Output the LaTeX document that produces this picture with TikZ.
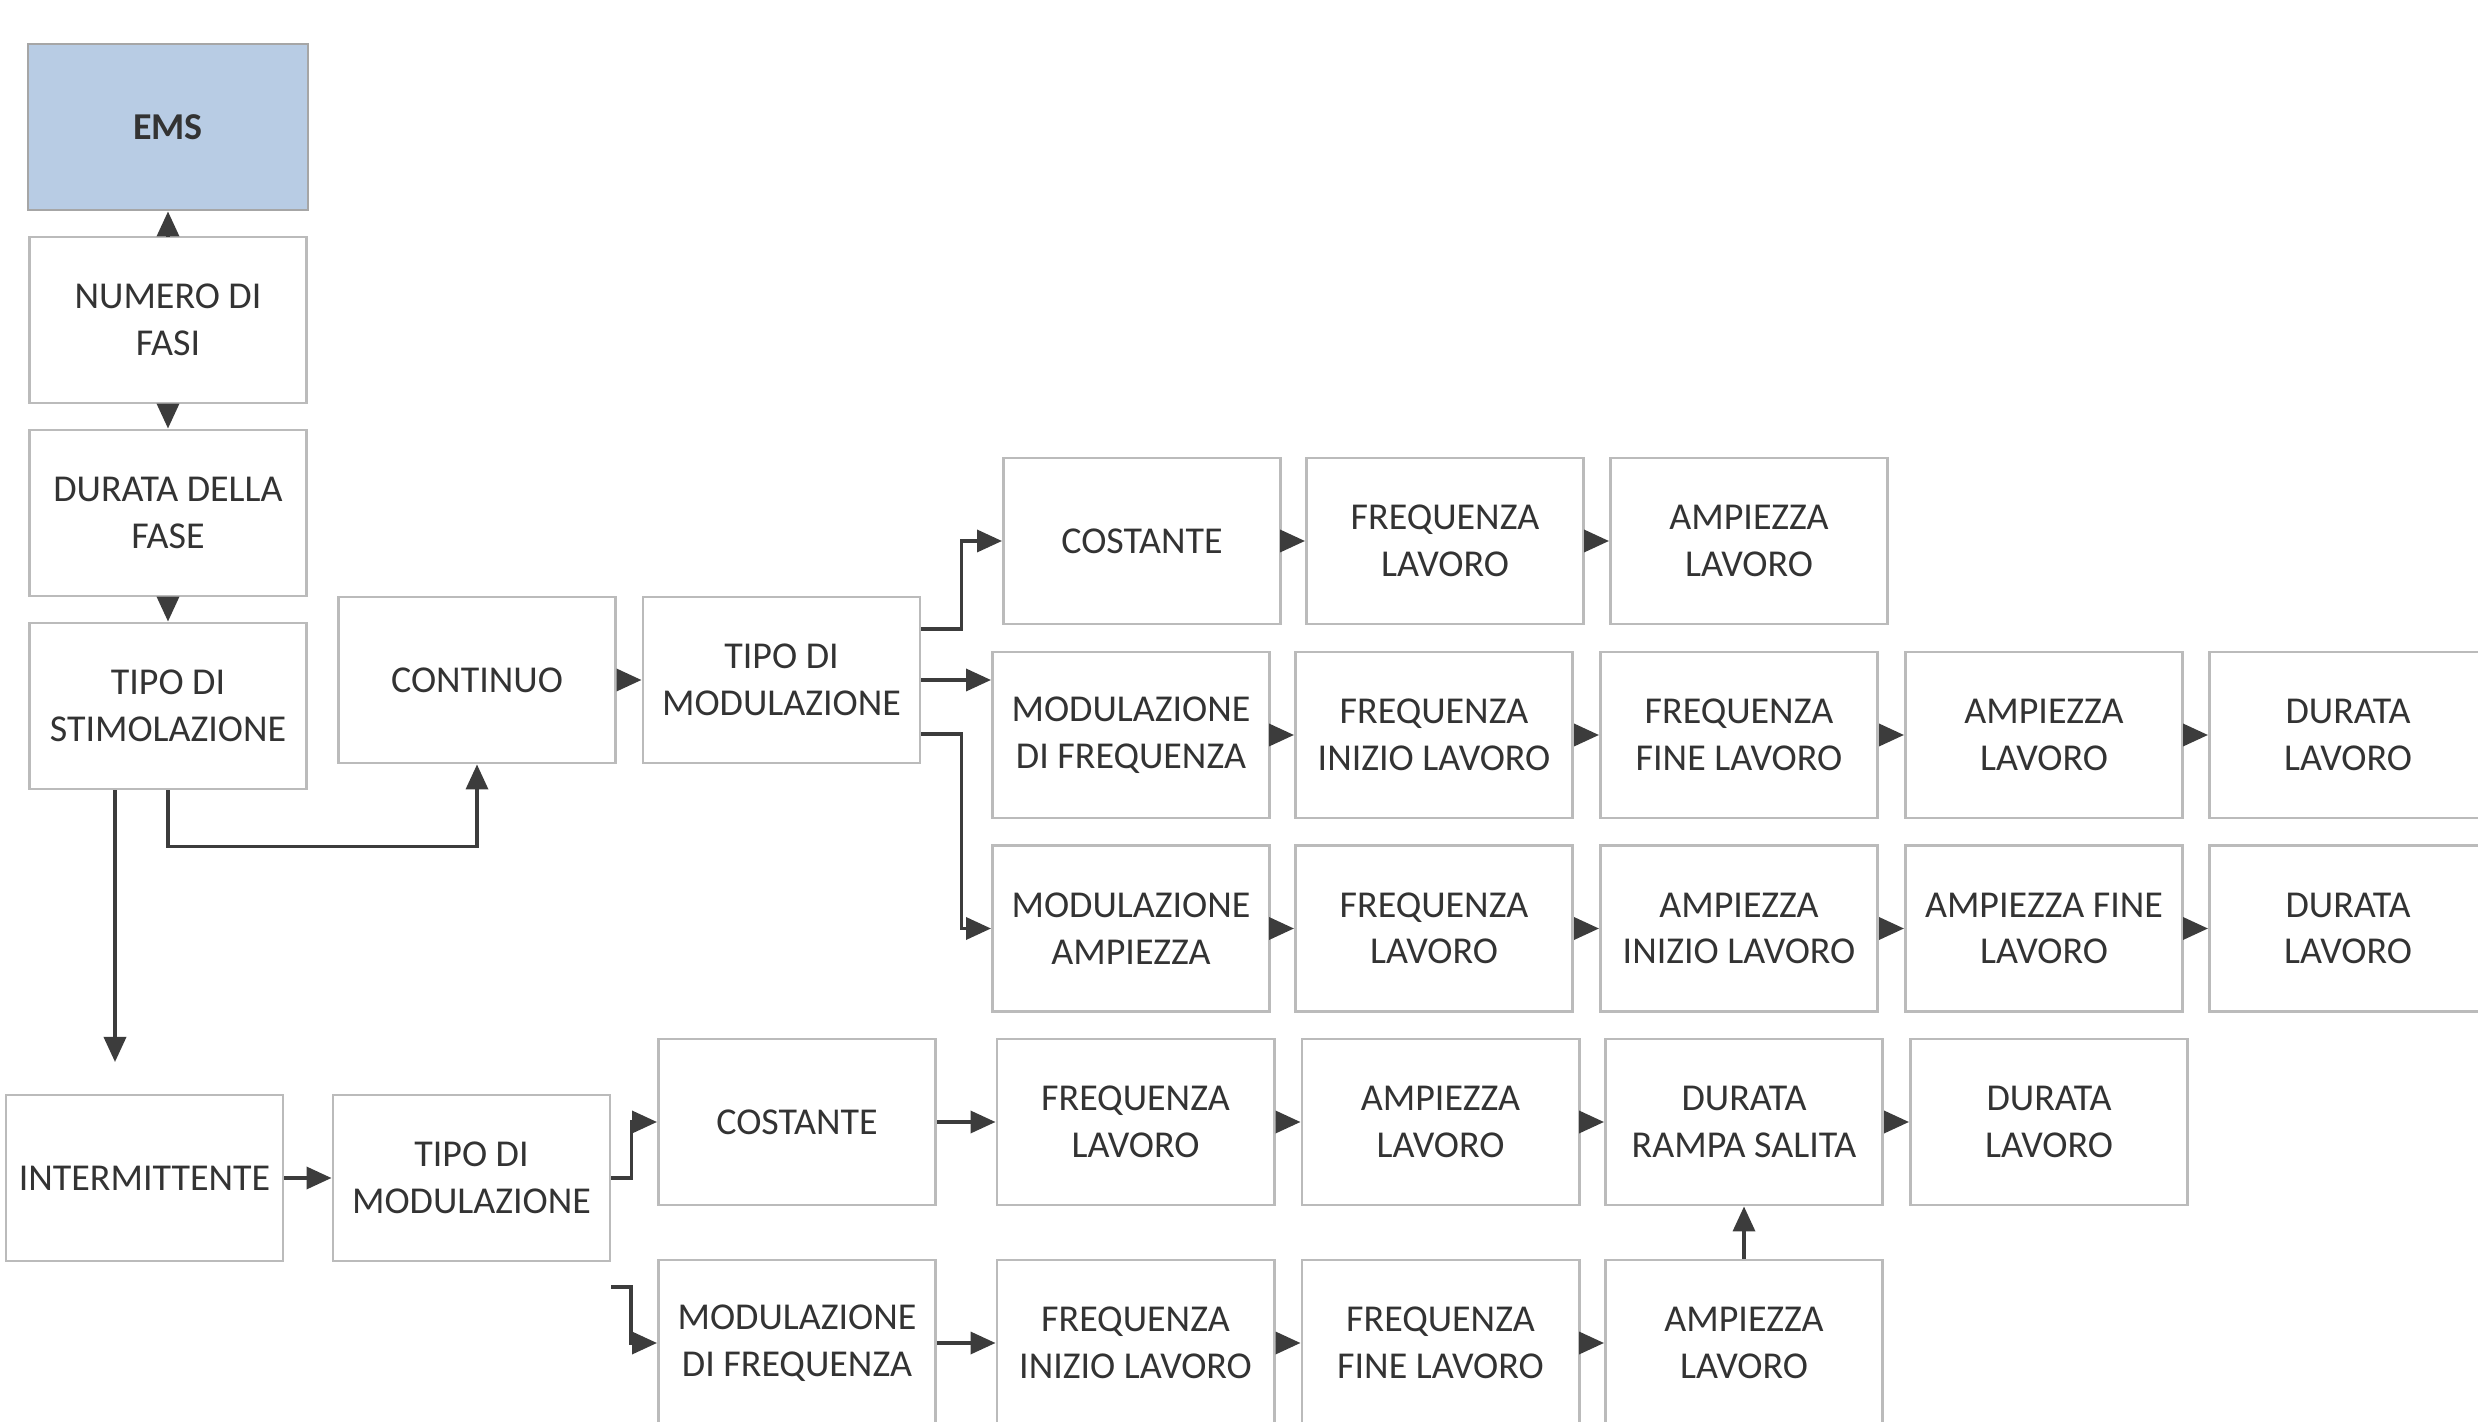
\documentclass[tikz,border=0pt]{standalone}
\usepackage{fontspec}
\setmainfont{Carlito}
\usetikzlibrary{arrows.meta,calc}
\definecolor{txtc}{HTML}{333333}
\definecolor{bordc}{HTML}{BBBBBB}
\definecolor{linec}{HTML}{3C3C3C}
\definecolor{emsfill}{HTML}{B8CCE4}
\begin{document}
\begin{tikzpicture}[x=0.01cm,y=-0.01cm,
  box/.style={draw=bordc, line width=0.8pt, fill=white, minimum width=2.77cm, minimum height=1.66cm,
    inner sep=0pt, align=center, text=txtc, font=\fontsize{10.8}{13.2}\selectfont},
  emsbox/.style={box, fill=emsfill, draw=gray!70, minimum width=2.8cm, font=\fontsize{10.8}{13.2}\selectfont\bfseries},
  arr/.style={draw=linec, line width=1pt, -{Triangle[length=0.25cm,width=0.22cm]}}
]
\useasboundingbox[fill=white] (0,0) rectangle (2478,1422);

% column 1
\node[emsbox] (ems) at (168,127) {EMS};
\node[box] (nf) at (168,320) {NUMERO DI\\FASI};
\node[box] (df) at (168,513) {DURATA DELLA\\FASE};
\node[box] (ts) at (168,706) {TIPO DI\\STIMOLAZIONE};

% continuous branch
\node[box] (cont) at (477,680) {CONTINUO};
\node[box] (tm1) at (781.5,680) {TIPO DI\\MODULAZIONE};

% row A
\node[box] (a1) at (1142,541) {COSTANTE};
\node[box] (a2) at (1445,541) {FREQUENZA\\LAVORO};
\node[box] (a3) at (1749,541) {AMPIEZZA\\LAVORO};

% row B
\node[box] (b1) at (1131,735) {MODULAZIONE\\DI FREQUENZA};
\node[box] (b2) at (1434,735) {FREQUENZA\\INIZIO LAVORO};
\node[box] (b3) at (1739,735) {FREQUENZA\\FINE LAVORO};
\node[box] (b4) at (2044,735) {AMPIEZZA\\LAVORO};
\node[box] (b5) at (2348,735) {DURATA\\LAVORO};

% row C
\node[box] (c1) at (1131,928.5) {MODULAZIONE\\AMPIEZZA};
\node[box] (c2) at (1434,928.5) {FREQUENZA\\LAVORO};
\node[box] (c3) at (1739,928.5) {AMPIEZZA\\INIZIO LAVORO};
\node[box] (c4) at (2044,928.5) {AMPIEZZA FINE\\LAVORO};
\node[box] (c5) at (2348,928.5) {DURATA\\LAVORO};

% intermittent branch
\node[box] (int) at (144.5,1178) {INTERMITTENTE};
\node[box] (tm2) at (471.5,1178) {TIPO DI\\MODULAZIONE};

% row D
\node[box] (d1) at (797,1122) {COSTANTE};
\node[box] (d2) at (1135.5,1122) {FREQUENZA\\LAVORO};
\node[box] (d3) at (1440.5,1122) {AMPIEZZA\\LAVORO};
\node[box] (d4) at (1744,1122) {DURATA\\RAMPA SALITA};
\node[box] (d5) at (2049,1122) {DURATA\\LAVORO};

% row E
\node[box] (e1) at (797,1343) {MODULAZIONE\\DI FREQUENZA};
\node[box] (e2) at (1135.5,1343) {FREQUENZA\\INIZIO LAVORO};
\node[box] (e3) at (1440.5,1343) {FREQUENZA\\FINE LAVORO};
\node[box] (e4) at (1744,1343) {AMPIEZZA\\LAVORO};

% free ends
\coordinate (iend) at (115,1062);
\coordinate (bstart) at (611,1287);

% column 1 arrows
\draw[arr] (nf.north) -- (ems.south);
\draw[arr] (nf.south) -- (df.north);
\draw[arr] (df.south) -- (ts.north);
\draw[arr] (ts.south) -- ++(0,56) -| (cont.south);
\draw[arr] (ts.south -| iend) -- (iend);

% continuous
\draw[arr] (cont.east) -- (tm1.west);
\draw[arr] ($(tm1.east)+(0,-51)$) -- ++(40,0) |- (a1.west);
\draw[arr] (tm1.east) -- (tm1.east -| b1.west);
\draw[arr] ($(tm1.east)+(0,54)$) -- ++(40,0) |- (c1.west);

\draw[arr] (a1) -- (a2);
\draw[arr] (a2) -- (a3);
\draw[arr] (b1) -- (b2);
\draw[arr] (b2) -- (b3);
\draw[arr] (b3) -- (b4);
\draw[arr] (b4) -- (b5);
\draw[arr] (c1) -- (c2);
\draw[arr] (c2) -- (c3);
\draw[arr] (c3) -- (c4);
\draw[arr] (c4) -- (c5);

% intermittent
\draw[arr] (int) -- (tm2);
\draw[arr] (tm2.east) -- ++(20,0) |- (d1.west);
\draw[arr] (bstart) -- ++(20,0) |- (e1.west);

\draw[arr] (d1) -- (d2);
\draw[arr] (d2) -- (d3);
\draw[arr] (d3) -- (d4);
\draw[arr] (d4) -- (d5);
\draw[arr] (e1) -- (e2);
\draw[arr] (e2) -- (e3);
\draw[arr] (e3) -- (e4);
\draw[arr] (e4.north) -- (d4.south);
\end{tikzpicture}
\end{document}
